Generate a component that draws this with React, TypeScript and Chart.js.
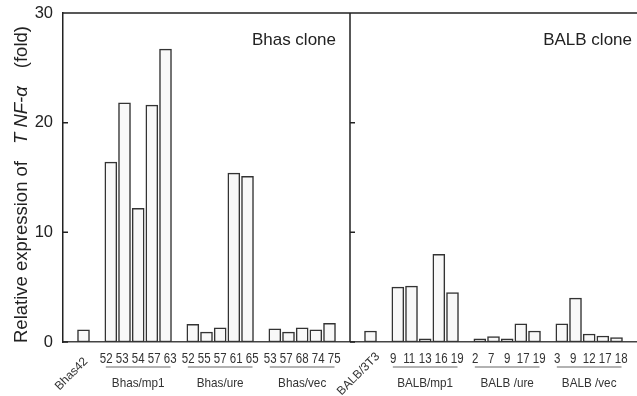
import { useEffect, useRef } from 'react';
import { Chart, registerables } from 'chart.js';

Chart.register(...registerables);

// ---- Data ----
const bhasControlLabel = 'Bhas42';
const bhasControlValue = 1.1;

const bhasMp1Name = 'Bhas/mp1';
const bhasMp1Clones = ['52', '53', '54', '57', '63'];
const bhasMp1Values = [16.4, 21.8, 12.2, 21.6, 26.7];

const bhasUreName = 'Bhas/ure';
const bhasUreClones = ['52', '55', '57', '61', '65'];
const bhasUreValues = [1.6, 0.9, 1.3, 15.4, 15.1];

const bhasVecName = 'Bhas/vec';
const bhasVecClones = ['53', '57', '68', '74', '75'];
const bhasVecValues = [1.2, 0.9, 1.3, 1.1, 1.7];

const balbControlLabel = 'BALB/3T3';
const balbControlValue = 1.0;

const balbMp1Name = 'BALB/mp1';
const balbMp1Clones = ['9', '11', '13', '16', '19'];
const balbMp1Values = [5.0, 5.1, 0.3, 8.0, 4.5];

const balbUreName = 'BALB /ure';
const balbUreClones = ['2', '7', '9', '17', '19'];
const balbUreValues = [0.3, 0.5, 0.3, 1.65, 1.0];

const balbVecName = 'BALB /vec';
const balbVecClones = ['3', '9', '12', '17', '18'];
const balbVecValues = [1.65, 4.0, 0.73, 0.55, 0.4];

const yTicks = [0, 10, 20, 30];
const panelTitles = ['Bhas clone', 'BALB clone'];
const yTitleParts = ['Relative expression of', 'T NF-\u03b1', '(fold)'];

// ---- Build the slot table for the category axis ----
type Group = { name: string; start: number; end: number; clones: string[] };
type Ctrl = { label: string; index: number };
const slotLabels: string[] = [];
const slotValues: (number | null)[] = [];
const groups: Group[] = [];
const controls: Ctrl[] = [];
let dividerIndex = 0;

function addBlank() {
  slotLabels.push('blank-' + slotLabels.length);
  slotValues.push(null);
}
function addControl(label: string, value: number) {
  controls.push({ label, index: slotLabels.length });
  slotLabels.push(label);
  slotValues.push(value);
}
function addGroup(name: string, clones: string[], values: number[]) {
  const start = slotLabels.length;
  clones.forEach((c, i) => {
    slotLabels.push(name + ' ' + c);
    slotValues.push(values[i]);
  });
  groups.push({ name, start, end: slotLabels.length - 1, clones });
}

addBlank();
addControl(bhasControlLabel, bhasControlValue);
addBlank();
addGroup(bhasMp1Name, bhasMp1Clones, bhasMp1Values);
addBlank();
addGroup(bhasUreName, bhasUreClones, bhasUreValues);
addBlank();
addGroup(bhasVecName, bhasVecClones, bhasVecValues);
addBlank();
dividerIndex = slotLabels.length;
addBlank();
addControl(balbControlLabel, balbControlValue);
addBlank();
addGroup(balbMp1Name, balbMp1Clones, balbMp1Values);
addBlank();
addGroup(balbUreName, balbUreClones, balbUreValues);
addBlank();
addGroup(balbVecName, balbVecClones, balbVecValues);
addBlank();

const FONT = '"Liberation Sans", Arial, Helvetica, sans-serif';
const INK = '#222';

const decorPlugin = {
  id: 'decor',
  afterDraw(chart: any) {
    const { ctx, chartArea, scales } = chart;
    const { left, right, top, bottom } = chartArea;
    const x = scales.x;
    const y = scales.y;
    const slotW = x.getPixelForValue(1) - x.getPixelForValue(0);
    const divX = x.getPixelForValue(dividerIndex) - slotW / 2;

    ctx.save();
    ctx.strokeStyle = INK;
    ctx.lineWidth = 1.5;
    ctx.beginPath();
    ctx.moveTo(left, top);
    ctx.lineTo(right, top);
    ctx.moveTo(divX, top);
    ctx.lineTo(divX, bottom);
    yTicks.forEach((v) => {
      const py = y.getPixelForValue(v);
      ctx.moveTo(left, py);
      ctx.lineTo(left + 5, py);
      ctx.moveTo(divX, py);
      ctx.lineTo(divX + 5, py);
    });
    ctx.stroke();

    // panel titles
    ctx.fillStyle = INK;
    ctx.font = '17px ' + FONT;
    ctx.textAlign = 'right';
    ctx.textBaseline = 'alphabetic';
    ctx.fillText(panelTitles[0], divX - 14, 45);
    ctx.fillText(panelTitles[1], right - 5, 45);

    // y title (rotated, mixed fonts)
    ctx.save();
    ctx.translate(27, 343);
    ctx.rotate(-Math.PI / 2);
    ctx.textAlign = 'left';
    let cx = 0;
    const normal = '18.5px ' + FONT;
    const italic = 'italic 18.5px ' + FONT;
    ctx.font = normal;
    ctx.fillText(yTitleParts[0], cx, 0);
    cx += ctx.measureText(yTitleParts[0]).width + 17;
    ctx.font = italic;
    ctx.fillText(yTitleParts[1], cx, 0);
    cx += ctx.measureText(yTitleParts[1]).width + 18;
    ctx.font = normal;
    ctx.fillText(yTitleParts[2], cx, 0);
    ctx.restore();

    // group clone numbers, underline + names
    groups.forEach((g) => {
      const gx0 = x.getPixelForValue(g.start);
      const gx1 = x.getPixelForValue(g.end);
      const mid = (gx0 + gx1) / 2;
      ctx.fillStyle = '#333';
      ctx.font = '14px ' + FONT;
      ctx.textAlign = 'center';
      g.clones.forEach((c, i) => {
        ctx.save();
        ctx.translate(mid + (i - (g.clones.length - 1) / 2) * 16, 363);
        ctx.scale(0.82, 1);
        ctx.fillText(c, 0, 0);
        ctx.restore();
      });
      const x0 = gx0 - 5;
      const x1 = gx1 + 5;
      ctx.strokeStyle = '#666';
      ctx.lineWidth = 1.2;
      ctx.beginPath();
      ctx.moveTo(x0, 367);
      ctx.lineTo(x1, 367);
      ctx.stroke();
      ctx.save();
      ctx.translate(mid, 387);
      ctx.scale(0.9, 1);
      ctx.font = '13px ' + FONT;
      ctx.fillStyle = '#333';
      ctx.textAlign = 'center';
      ctx.fillText(g.name, 0, 0);
      ctx.restore();
    });

    // rotated control labels
    controls.forEach((c) => {
      const px = x.getPixelForValue(c.index);
      ctx.save();
      ctx.translate(px - 12, 374);
      ctx.rotate(-Math.PI / 4);
      ctx.font = '12px ' + FONT;
      ctx.fillStyle = '#333';
      ctx.textAlign = 'center';
      ctx.textBaseline = 'middle';
      ctx.fillText(c.label, 0, 0);
      ctx.restore();
    });

    ctx.restore();
  },
};

export default function App() {
  const canvasRef = useRef<HTMLCanvasElement | null>(null);

  useEffect(() => {
    if (!canvasRef.current) return;
    const chart = new Chart(canvasRef.current, {
      type: 'bar',
      data: {
        labels: slotLabels,
        datasets: [
          {
            data: slotValues as any,
            backgroundColor: '#f8f8f8',
            borderColor: '#333',
            borderWidth: 1.5,
            borderSkipped: false,
            barThickness: 12,
          },
        ],
      },
      options: {
        responsive: false,
        animation: false,
        events: [],
        layout: { padding: { top: 13, right: 0, left: 0, bottom: 0 } },
        plugins: {
          legend: { display: false },
          tooltip: { enabled: false },
          title: { display: false },
        },
        scales: {
          x: {
            type: 'category',
            ticks: { display: false },
            grid: { display: false, drawTicks: false },
            border: { display: true, color: '#444', width: 1.5 },
            afterFit: (s: any) => {
              s.height = 54;
              s.paddingLeft = 0;
              s.paddingRight = 0;
            },
          },
          y: {
            min: 0,
            max: 30,
            afterBuildTicks: (s: any) => {
              s.ticks = yTicks.map((v) => ({ value: v }));
            },
            ticks: {
              color: INK,
              font: { family: FONT, size: 16.5 },
              padding: 10,
            },
            grid: { display: false, drawTicks: false },
            border: { display: true, color: INK, width: 1.5 },
            afterFit: (s: any) => {
              s.width = 63;
              s.paddingTop = 0;
              s.paddingBottom = 0;
            },
          },
        },
      },
      plugins: [decorPlugin],
    });
    return () => chart.destroy();
  }, []);

  return (
    <div style={{ position: 'fixed', left: 0, top: 0, width: 637, height: 396, background: '#fff' }}>
      <canvas ref={canvasRef} width={637} height={396} style={{ width: 637, height: 396 }} />
    </div>
  );
}
